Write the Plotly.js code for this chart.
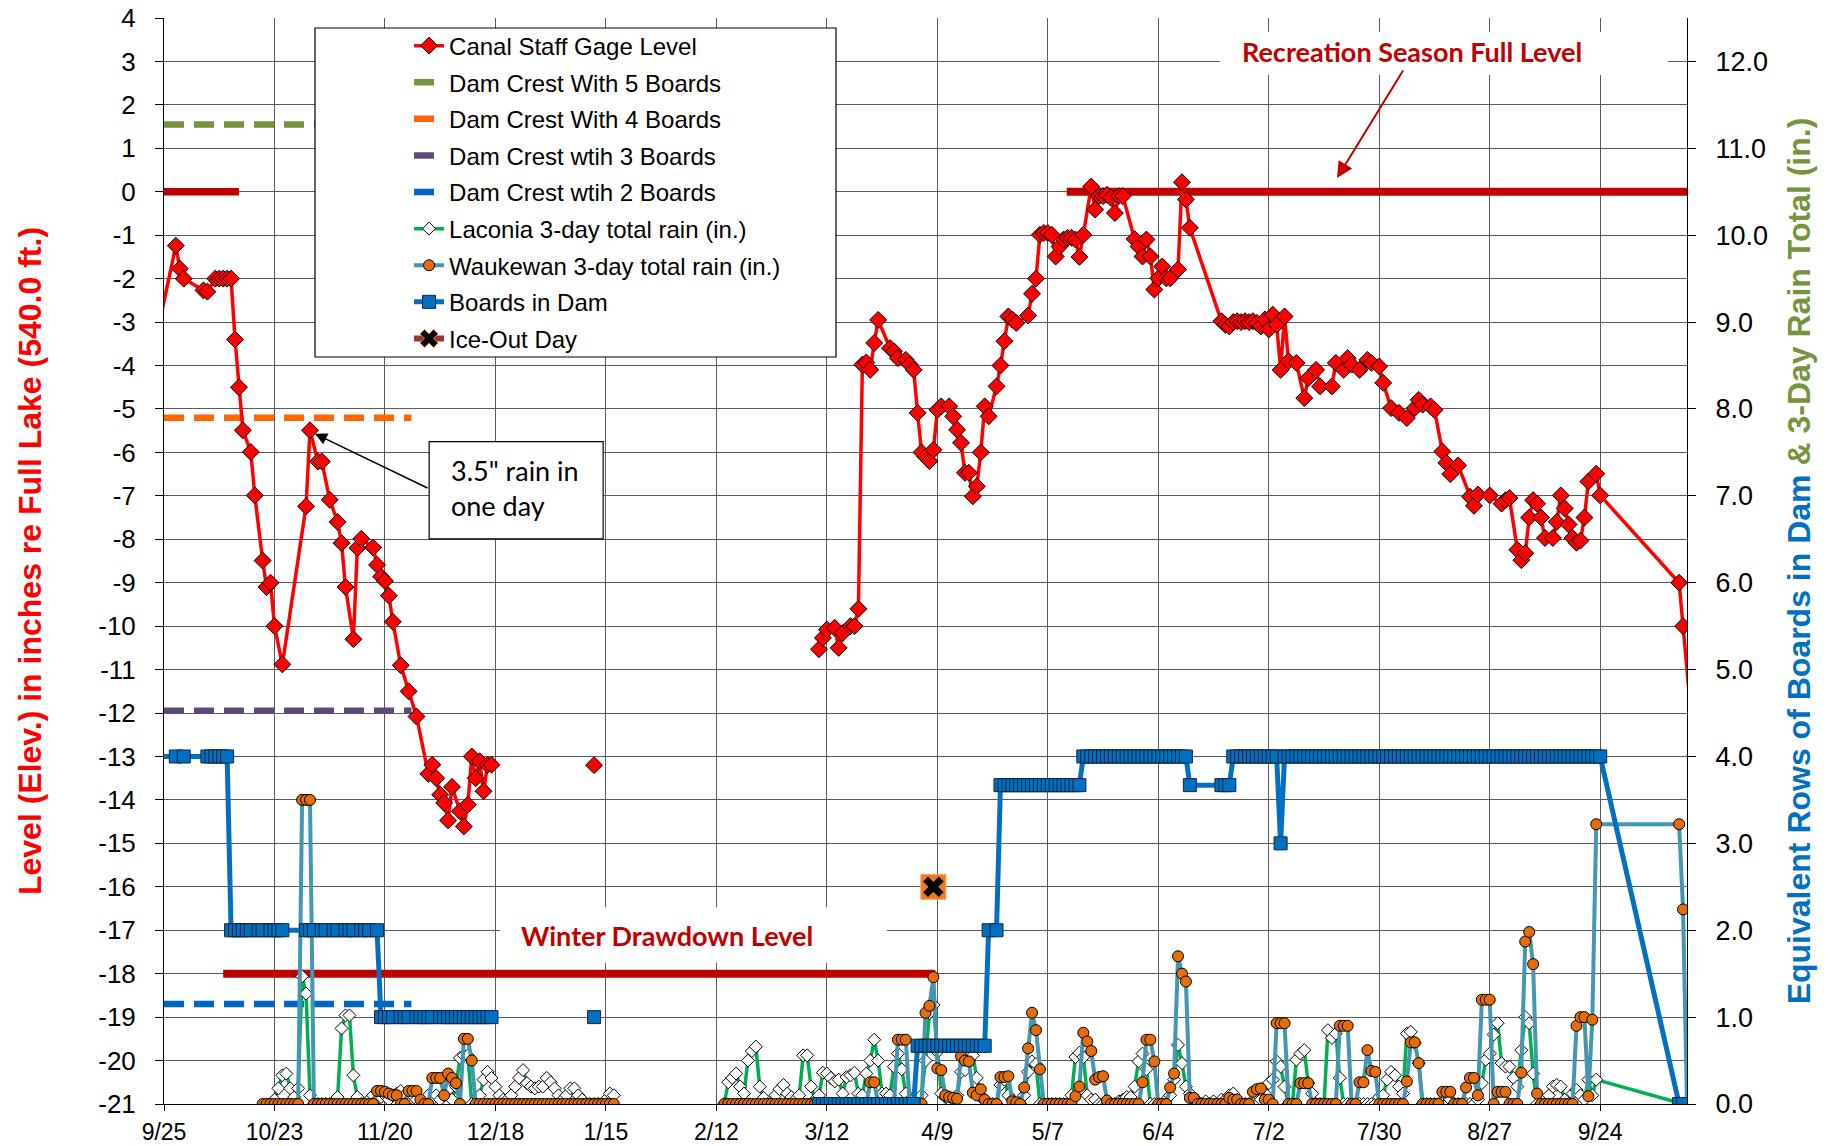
<!DOCTYPE html>
<html><head><meta charset="utf-8">
<script src="https://cdn.plot.ly/plotly-3.0.1.min.js"></script>
<style>html,body{margin:0;padding:0;background:#fff}#chart{width:1832px;height:1146px}</style>
</head><body><div id="chart"></div>
<script>
// ---------------- DATA ----------------
const BASE = '2010-09-25';           // first x tick; day offsets below count from this date
const axisEnd = '2011-10-16';

// Canal staff gage level (inches re full lake); day offsets after 9/25/2010, null = gap in record
const levelDays = [-3,3,4,5,10,11,13,14,15,16,17,18,19,20,22,23,25,26,27,28,30,36,37,39,40,42,44,45,46,48,49,50,53,54,55,56,57,58,60,62,64,67,68,69,70,71,72,73,75,76,77,78,79,80,81,82,83,
84,109,110,
166,167,168,170,171,172,174,175,176,177,178,179,180,181,184,185,186,188,189,190,191,192,193,194,195,196,197,199,200,201,202,203,204,205,206,207,208,209,211,212,213,214,215,216,219,220,221,222,223,224,225,226,227,228,229,230,231,232,233,235,236,237,238,239,240,241,242,243,246,247,248,249,250,251,252,253,254,255,257,258,259,260,
268,269,270,271,272,273,274,275,276,277,278,279,280,281,282,283,284,285,287,289,290,292,293,296,297,299,300,301,303,305,306,308,309,311,313,315,317,318,319,321,322,324,325,326,328,331,332,333,336,339,340,341,343,344,345,346,347,348,349,350,352,353,354,355,356,357,358,359,360,361,363,364,384,385,388];
const levelInches = [-3.8,-1.24,-1.77,-2.0,-2.27,-2.3,-2.0,-2.0,-2.0,-2.0,-2.0,-3.4,-4.5,-5.49,-5.99,-6.99,-8.49,-9.1,-9.0,-10.0,-10.88,-7.24,-5.49,-6.21,-6.21,-7.09,-7.6,-8.09,-9.1,-10.3,-8.2,-7.99,-8.19,-8.59,-8.86,-8.96,-9.3,-9.9,-10.9,-11.5,-12.08,-13.4,-13.19,-13.5,-13.88,-14.07,-14.47,-13.7,-14.26,-14.61,-14.11,-13.0,-13.5,-13.11,-13.8,-13.19,-13.19,
null,-13.2,null,
-10.53,-10.27,-10.08,-10.04,-10.5,-10.16,-10.0,-10.0,-9.6,-3.98,-3.93,-4.1,-3.48,-2.95,-3.6,-3.67,-3.83,-3.87,-3.98,-4.1,-5.09,-6.0,-6.1,-6.2,-5.94,-5.02,-4.94,-4.94,-5.17,-5.48,-5.78,-6.47,-6.47,-7.01,-6.78,-6.0,-4.94,-5.17,-4.48,-4.0,-3.44,-2.87,-2.94,-3.02,-2.85,-2.35,-2.0,-0.99,-0.95,-0.95,-0.99,-1.49,-1.26,-1.1,-1.06,-1.06,-1.1,-1.5,-0.99,0.12,-0.41,-0.1,-0.1,-0.07,-0.14,-0.49,-0.1,-0.1,-1.09,-1.26,-1.49,-1.1,-1.49,-2.25,-1.99,-1.72,-1.99,-1.99,-1.79,0.22,-0.18,-0.83,
-2.98,-3.06,-3.1,-3.0,-2.98,-3.0,-2.98,-3.0,-2.98,-3.02,-3.1,-2.94,-3.17,-2.83,-3.06,-4.1,-2.87,-3.9,-3.94,-4.75,-4.29,-4.1,-4.48,-4.48,-3.94,-4.1,-3.83,-3.98,-4.1,-3.87,-3.94,-4.02,-4.4,-4.98,-5.09,-5.21,-4.98,-4.79,-4.9,-4.94,-5.02,-5.98,-6.24,-6.5,-6.3,-7.02,-7.23,-6.97,-6.99,-7.18,-7.1,-7.05,-8.24,-8.48,-8.32,-7.5,-7.1,-7.18,-7.5,-7.97,-7.97,-7.6,-6.99,-7.29,-7.66,-7.97,-8.08,-8.03,-7.5,-6.67,-6.49,-6.99,-9.0,-10.0,-13.0];

// Boards in dam (equivalent rows), daily readings; null = no reading that day
const boardsFallStart = '2010-09-23';
const boardsFall = [4,null,null,null,null,4,null,4,null,null,
 null,null,null,4,4,4,4,4,4,2,
 2,2,2,2,2,null,2,2,null,2,
 2,2,2,null,null,null,null,null,2,2,
 2,null,2,2,null,2,2,null,2,2,
 2,null,2,2,2,null,2,1,1,1,
 1,null,1,1,1,null,1,1,1,1,
 1,null,1,1,1,1,1,1,1,1,
 1,1,1,1,1,1];
const boardsJanStart = '2011-01-12';
const boardsJan = [1];
const boardsSpringStart = '2011-03-10';
const boardsSpring = [0,0,0,0,0,0,0,0,0,0,0,0,0,0,0,0,0,0,0,0,0,0,0,0,0,
 0.67,0.67,0.67,0.67,0.67,0.67,0.67,0.67,0.67,0.67,0.67,0.67,0.67,0.67,0.67,0.67,0.67,0.67,
 2,null,2,
 3.67,3.67,3.67,3.67,3.67,3.67,3.67,3.67,3.67,3.67,3.67,3.67,3.67,3.67,3.67,3.67,3.67,3.67,3.67,3.67,3.67,
 4,4,4,4,4,4,4,4,4,4,4,4,4,4,4,4,4,4,4,4,4,4,4,4,4,4,4,
 3.67,null,null,null,null,null,null,null,3.67,3.67,3.67,
 4,4,4,4,4,4,4,4,4,4,4,4,
 3,
 4,4,4,4,4,4,4,4,4,4,4,4,4,4,4,4,4,4,4,4,4,4,4,4,4,4,4,4,4,4,4,4,4,4,4,4,4,4,4,4,
 4,4,4,4,4,4,4,4,4,4,4,4,4,4,4,4,4,4,4,4,4,4,4,4,4,4,4,4,4,4,4,4,4,4,4,4,4,4,4,4,4,
 null,null,null,null,null,null,null,null,null,null,null,null,null,null,null,null,null,null,null,
 0,0];

// Waukewan 3-day total rain (in.), daily from each start date
const waukOct10Start = '2010-10-20';
const waukOct10 = [0,0,0,0,0,0,0,0,0,0,3.5,3.5];
const waukNov10 = [3.5,0,0,0,0,0,0,0,0,0, 0,0,0,0,0,0,0,0.15,0.15,0.14, 0.12,0.1,0.1,0,0,0.15,0.15,0.15,0.05,0];
const waukDec10 = [0,0.3,0.3,0.3,0.1,0.35,0.3,0.24,0,0.75, 0.75,0.5,0,0,0,0,0,0,0,0, 0,0,0,0,0,0,0,0,0,0,0];
const waukJan11 = [0,0,0,0,0,0,0,0,0,0,0,0,0,0,0,0,0];
const waukFeb11Start = '2011-02-14';
const waukFeb11 = [0,0,0,0,0,0,0,0,0,0,0,0,0,0,0];
const waukMar11 = [0,0,0,0,0,0,0,0,0,0, 0,0,0,0,0,0,0,0,0,0, 0,0,0.25,0.25,0,0,0,0,0,0.74, 0.74];
const waukApr11 = [0.74,0,0,0,0,1.05,1.13,1.46,0.41,0.39, 0.1,0.08,0.07,0.06,0.55,0.5,0.49,0.13,0.1,0.17, 0.05,0,0,0,0.31,0.31,0.32,0.03,0.02,0];
const waukMay11 = [0.19,0.64,1.05,0.85,0.4,0,0,0,0,0, 0,0,0,0.09,0.2,0.82,0.72,0.61,0.28,0.31, 0.32,0.04,0,0,0,0,0,0,0,0,0.25];
const waukJun11 = [0.74,0.74,0.49,0,0,0,0.19,0.35,1.7,1.5, 1.41,0.07,0.07,0,0,0,0,0,0,0, 0,0.07,0.05,0.05,0,0,0,0.14,0.17,0.18];
const waukJul11 = [0.05,0.05,0,0.93,0.93,0.93,0,0,0,0.24, 0.24,0.24,0,0,0,0,0,0,0,0.9, 0.9,0.9,0,0,0.25,0.25,0.62,0.38,0.37,0,0];
const waukAug11 = [0,0,0,0,0,0.26,0.71,0.71,0.47,0, 0,0,0,0,0.14,0.14,0.14,0,0,0, 0.19,0.3,0.3,0.1,1.2,1.2,1.2,0,0.14,0.14,0.14];
const waukSep11 = [0,0,0,0.36,1.87,1.98,1.61,0.12,0,0, 0,0,0,0,0,0,0,0.9,1.0,1.0,0.09,0.97,3.22];
const waukOct11Start = '2011-10-14';
const waukOct11 = [3.22,2.24,0];

// Laconia 3-day total rain (in.), daily from each start date
const lacOct10Start = '2010-10-22';
const lacOct10 = [0,0.05,0.18,0.33,0.35,0.18,0.08,0.18,1.47,1.27];
const lacNov10 = [0.1,0,0,0,0,0,0,0.08,0.87,1.02, 1.02,0.33,0.08,0,0,0.05,0.1,0.05,0.08,0.1, 0.05,0.1,0.12,0.15,0.1,0.05,0.1,0.05,0,0.05];
const lacDec10 = [0.1,0.05,0.1,0.05,0.1,0.16,0.05,0.2,0.53,0.56, 0.56,0,0,0.1,0.28,0.37,0.3,0.2,0.1,0.05, 0.05,0.1,0.2,0.3,0.39,0.24,0.2,0.18,0.2,0.2,0.3];
const lacJan11 = [0.25,0.18,0.1,0.05,0.1,0.18,0.18,0.1,0.05,0,0,0,0,0,0.05,0.12,0.1];
const lacFeb11Start = '2011-02-14';
const lacFeb11 = [0,0.25,0.3,0.35,0.2,0.12,0.5,0.61,0.66,0.2,0.07,0,0,0.1,0.17];
const lacMar11 = [0.22,0.12,0.08,0.05,0.1,0.56,0.56,0.2,0.05,0.1, 0.36,0.35,0.3,0.26,0.28,0.12,0.31,0.33,0.36,0.12, 0.1,0.35,0.5,0.74,0.5,0.12,0.12,0.1,0.43,0.58, 0.4];
const lacApr11 = [0.12,0.05,0,0.05,0.1,0.5,1.05,1.14,0.6,0.12, 0.08,0.05,0.05,0.1,0.37,0.39,0.5,0.56,0.3,0.08, 0.05,0,0,0,0.22,0.28,0.1,0.05,0,0];
const lacMay11 = [0.1,0.37,0.49,0.46,0,0,0,0,0,0, 0,0,0.1,0.54,0.59,0.54,0.1,0.05,0.05,0, 0,0,0,0,0.03,0.05,0.08,0.08,0.2,0.49,0.58];
const lacJun11 = [0.4,0,0,0,0,0.05,0.1,0.28,0.68,0.47, 0.2,0.12,0.05,0.03,0,0.03,0,0.03,0,0.05, 0.05,0.1,0.12,0.05,0,0,0,0,0,0.05];
const lacJul11 = [0.12,0.24,0.28,0.49,0.43,0.2,0,0,0.51,0.58, 0.62,0.24,0.12,0,0,0,0.85,0.76,0.81,0.3, 0,0,0,0,0,0,0,0,0,0.08,0.1];
const lacAug11 = [0.28,0.37,0.33,0.2,0.12,0.81,0.83,0.7,0.47,0, 0,0,0,0,0,0,0.05,0,0,0, 0,0,0,0.05,0.24,0.51,0.58,0.8,0.93,0.47,0.43];
const lacSep11 = [0.43,0.3,0.2,0.62,1.0,0.93,0.35,0,0,0, 0.1,0.2,0.22,0.2,0.05,0,0.12,0.16,0.1,0.05, 0.28,0.1,0.28];
const lacOct11Start = '2011-10-15';
const lacOct11 = [0];

// Dam crest levels (inches re full lake) with given number of board rows
const crestNames = ['Dam Crest With 5 Boards','Dam Crest With 4 Boards','Dam Crest wtih 3 Boards','Dam Crest wtih 2 Boards'];
const crestLevels = [1.55, -5.2, -11.95, -18.7];
const crestColors = ['#77933C','#FF6600','#604A7B','#0066CC'];
const crestSpan = ['2010-09-25', '2010-11-26 17:00'];

// Target levels
const fullLevel = 0;
const fullSpanFall = ['2010-09-24 18:00', '2010-10-14'];
const fullSpanSummer = ['2011-05-11 19:00', '2011-10-16'];
const drawdownLevel = -18;
const drawdownSpan = ['2010-10-10', '2011-04-08 12:00'];

// Ice-out
const iceOutDate = '2011-04-08';
const iceOutLevel = -16;

// Tick labels
const leftTicks = [-21,-20,-19,-18,-17,-16,-15,-14,-13,-12,-11,-10,-9,-8,-7,-6,-5,-4,-3,-2,-1,0,1,2,3,4];
const rightTicks = [0,1,2,3,4,5,6,7,8,9,10,11,12];

// ---------------- HELPERS ----------------
const DAY = 86400000;
const baseMs = Date.parse(BASE + 'T00:00:00Z');
function fmt(ms){ const s = new Date(ms).toISOString(); return s.slice(0,10) + ' ' + s.slice(11,19); }
function dayDate(d){ return fmt(baseMs + Math.round(d * DAY)); }
function firstOfMonth(y, m){ return new Date(Date.UTC(y, m - 1, 1)).toISOString().slice(0,10); }
// parts: [startISO, values] or 'BREAK'
function dailySeries(parts){
  const x = [], y = [];
  parts.forEach(p => {
    if (p === 'BREAK') { x.push(x[x.length-1]); y.push(null); return; }
    const t0 = Date.parse(p[0] + 'T00:00:00Z');
    p[1].forEach((v, i) => { if (v !== null) { x.push(fmt(t0 + i * DAY)); y.push(v); } });
  });
  return {x, y};
}

const level = { x: levelDays.map(dayDate), y: levelInches };
const boards = dailySeries([[boardsFallStart, boardsFall], 'BREAK', [boardsJanStart, boardsJan], 'BREAK', [boardsSpringStart, boardsSpring]]);
const wauk = dailySeries([[waukOct10Start, waukOct10], [firstOfMonth(2010,11), waukNov10], [firstOfMonth(2010,12), waukDec10], [firstOfMonth(2011,1), waukJan11], 'BREAK',
  [waukFeb11Start, waukFeb11], [firstOfMonth(2011,3), waukMar11], [firstOfMonth(2011,4), waukApr11], [firstOfMonth(2011,5), waukMay11], [firstOfMonth(2011,6), waukJun11],
  [firstOfMonth(2011,7), waukJul11], [firstOfMonth(2011,8), waukAug11], [firstOfMonth(2011,9), waukSep11], [waukOct11Start, waukOct11]]);
const lac = dailySeries([[lacOct10Start, lacOct10], [firstOfMonth(2010,11), lacNov10], [firstOfMonth(2010,12), lacDec10], [firstOfMonth(2011,1), lacJan11], 'BREAK',
  [lacFeb11Start, lacFeb11], [firstOfMonth(2011,3), lacMar11], [firstOfMonth(2011,4), lacApr11], [firstOfMonth(2011,5), lacMay11], [firstOfMonth(2011,6), lacJun11],
  [firstOfMonth(2011,7), lacJul11], [firstOfMonth(2011,8), lacAug11], [firstOfMonth(2011,9), lacSep11], [lacOct11Start, lacOct11]]);

// ---------------- TRACES ----------------
const traces = [];
const redDark = '#C00000';
traces.push({x: fullSpanFall, y: [fullLevel, fullLevel], mode:'lines', line:{color:redDark, width:7.5}, showlegend:false, hoverinfo:'skip'});
traces.push({x: fullSpanSummer, y: [fullLevel, fullLevel], mode:'lines', line:{color:redDark, width:8}, showlegend:false, hoverinfo:'skip'});
traces.push({x: drawdownSpan, y: [drawdownLevel, drawdownLevel], mode:'lines', line:{color:redDark, width:8}, showlegend:false, hoverinfo:'skip'});
crestLevels.forEach((lv, i) => {
  traces.push({x: crestSpan, y: [lv, lv], mode:'lines', name: crestNames[i], legendrank: 2 + i, legendgroup:'c'+i,
    line:{color: crestColors[i], width:6.5, dash:'20px,10px'}});
});
traces.push({x: level.x, y: level.y, mode:'lines+markers', name:'Canal Staff Gage Level', legendrank:1, legendgroup:'lvl',
  connectgaps:false, line:{color:'#FF0000', width:3.5},
  marker:{symbol:'diamond', size:13, color:'#FF0000', line:{color:'#000', width:1}}});
// orange backing tile of the ice-out symbol
traces.push({x:[iceOutDate], y:[iceOutLevel], mode:'markers', showlegend:false, legendgroup:'ice', legendrank:9, hoverinfo:'skip',
  marker:{symbol:'square', size:25, color:'#F07A22', line:{color:'#F5A05A', width:1}}});
traces.push({x:[iceOutDate], y:[iceOutLevel], mode:'lines+markers', name:'Ice-Out Day', legendrank:9, legendgroup:'ice',
  line:{color:'#953735', width:6}, marker:{symbol:'x', size:19, color:'#000000', line:{color:'#F07A22', width:1}}});
traces.push({x: lac.x, y: lac.y, yaxis:'y2', mode:'lines+markers', name:'Laconia 3-day total rain (in.)', legendrank:6, legendgroup:'lac',
  connectgaps:false, line:{color:'#00B050', width:3.5},
  marker:{symbol:'diamond', size:10, color:'#FFFFFF', line:{color:'#000', width:1}}});
traces.push({x: wauk.x, y: wauk.y, yaxis:'y2', mode:'lines+markers', name:'Waukewan 3-day total rain (in.)', legendrank:7, legendgroup:'wk',
  connectgaps:false, line:{color:'#4596B0', width:4},
  marker:{symbol:'circle', size:11, color:'#E46C0A', line:{color:'#000', width:1}}});
traces.push({x: boards.x, y: boards.y, yaxis:'y2', mode:'lines+markers', name:'Boards in Dam', legendrank:8, legendgroup:'bd',
  connectgaps:false, line:{color:'#0070C0', width:5},
  marker:{symbol:'square', size:13, color:'#0070C0', line:{color:'#10253F', width:1}}});

// ---------------- LAYOUT ----------------
const tickFontFamily = 'Liberation Sans, Arial, sans-serif';
const lato = 'Lato, Liberation Sans, sans-serif';
const layout = {
  width:1832, height:1146,
  margin:{l:164, r:145, t:18, b:42},
  paper_bgcolor:'#FFFFFF', plot_bgcolor:'#FFFFFF',
  font:{family: tickFontFamily, color:'#000'},
  showlegend:true,
  legend:{x:0.1609, y:0.9949, xanchor:'left', yanchor:'top', bgcolor:'rgba(0,0,0,0)', borderwidth:0,
    font:{size:24, family: tickFontFamily}, tracegroupgap:2.4, traceorder:'grouped'},
  xaxis:{type:'date', range:[BASE, axisEnd], tick0:BASE, dtick:28*DAY, tickformat:'%-m/%-d',
    showgrid:true, gridcolor:'#5A5A5A', gridwidth:1, ticks:'outside', ticklen:6, tickcolor:'#000',
    showline:true, linecolor:'#000', linewidth:1, tickfont:{size:23}, zeroline:false, ticklabelstandoff:1},
  yaxis:{range:[-21,4], tickmode:'array', tickvals:leftTicks, ticktext:leftTicks.map(String),
    showgrid:true, gridcolor:'#5A5A5A', gridwidth:1, ticks:'outside', ticklen:8, tickcolor:'#000',
    showline:true, linecolor:'#000', linewidth:1, zeroline:false, tickfont:{size:26}, ticklabelstandoff:14,
    title:{text:'<b>Level (Elev.) in inches re Full Lake (540.0 ft.)</b>', font:{size:32, color:'#FF0000'}, standoff:47}},
  yaxis2:{overlaying:'y', side:'right', range:[0,12.5], tickmode:'array', tickvals:rightTicks, ticktext:rightTicks.map(v => v.toFixed(1)),
    showgrid:false, ticks:'outside', ticklen:8, tickcolor:'#000', showline:true, linecolor:'#000', linewidth:1,
    zeroline:false, tickfont:{size:27}, ticklabelstandoff:14,
    title:{text:'<b><span style="color:#0070C0">Equivalent Rows of Boards in Dam</span><span style="color:#77933C"> &amp; 3-Day Rain Total (in.)</span></b>',
      font:{size:32}, standoff:20}},
  shapes:[
    {type:'rect', xref:'x', yref:'y', x0:dayDate(267.6), x1:dayDate(381.2), y0:2.69, y1:3.68, fillcolor:'#FFFFFF', line:{width:0}, layer:'between'},
    {type:'rect', xref:'x', yref:'y', x0:dayDate(85.2), x1:dayDate(183.2), y0:-17.75, y1:-16.47, fillcolor:'#FFFFFF', line:{width:0}, layer:'between'},
    {type:'rect', xref:'x', yref:'y', x0:dayDate(67.2), x1:dayDate(111.3), y0:-7.99, y1:-5.75, fillcolor:'#FFFFFF', line:{color:'#000', width:1.2}, layer:'above'},
    {type:'rect', xref:'paper', yref:'paper', x0:(315-164)/1523, x1:(836-164)/1523, y0:(1104-357)/1086, y1:(1104-28)/1086,
      fillcolor:'#FFFFFF', line:{color:'#000', width:1.2}, layer:'above'}
  ],
  annotations:[
    {x:dayDate(316.4), y:3.23, xref:'x', yref:'y', text:'<b>Recreation Season Full Level</b>', showarrow:false,
      font:{family:lato, size:27, color:redDark}, xanchor:'center', yanchor:'middle'},
    {x:dayDate(297.3), y:0.317, xref:'x', yref:'y', ax:67, ay:-109, text:'', showarrow:true,
      arrowhead:2, arrowsize:1.6, arrowwidth:2, arrowcolor:redDark},
    {x:dayDate(127.6), y:-17.13, xref:'x', yref:'y', text:'<b>Winter Drawdown Level</b>', showarrow:false,
      font:{family:lato, size:27, color:redDark}, xanchor:'center', yanchor:'middle'},
    {x:dayDate(72.2), y:-6.81, xref:'x', yref:'y', text:'3.5" rain in<br>one day', showarrow:false, align:'left',
      font:{family:lato, size:27, color:'#000'}, xanchor:'left', yanchor:'middle'},
    {x:dayDate(38.27), y:-5.57, xref:'x', yref:'y', ax:114, ay:55, text:'', showarrow:true,
      arrowhead:2, arrowsize:1.6, arrowwidth:1.5, arrowcolor:'#000'}
  ]
};

Plotly.newPlot('chart', traces, layout, {displayModeBar:false, staticPlot:true});
</script>
</body></html>
